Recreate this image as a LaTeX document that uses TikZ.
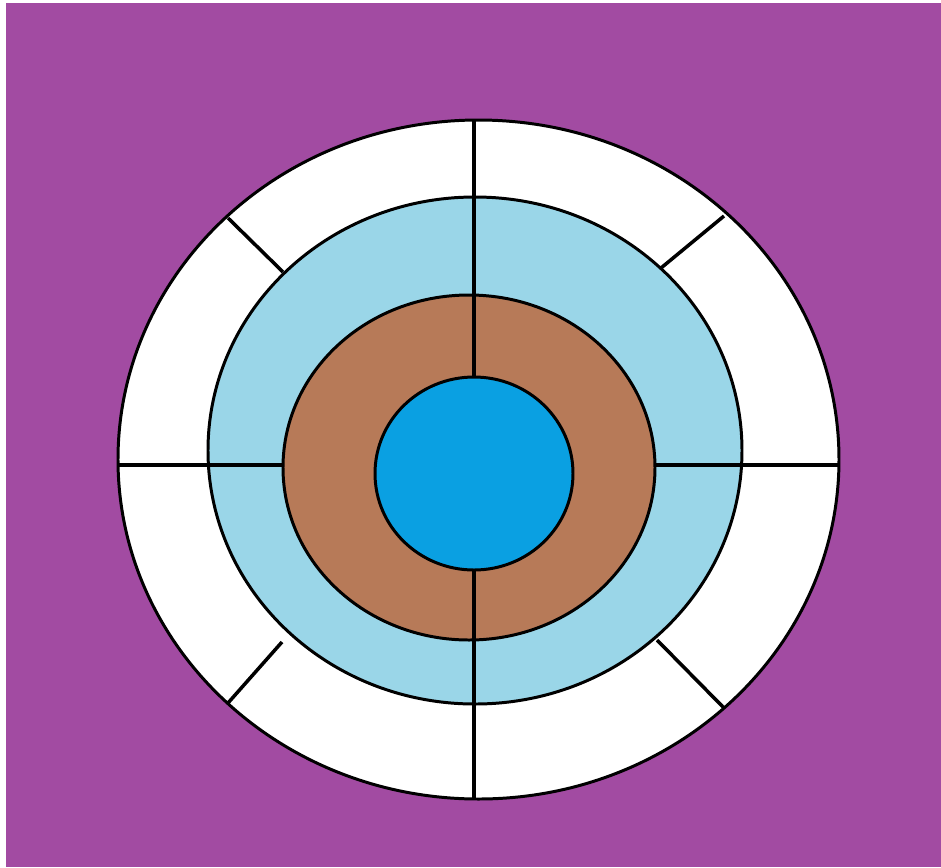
\documentclass[tikz,border=0pt]{standalone}
\usepackage{xcolor}
\usepackage{tikz}
\usetikzlibrary{calc}
\definecolor{bgpurple}{RGB}{162, 75, 162}
\definecolor{ringblue}{RGB}{154, 214, 232}
\definecolor{ringbrown}{RGB}{183, 122, 88}
\definecolor{coreblue}{RGB}{10, 160, 226}

\begin{document}
\begin{tikzpicture}[
    x=0.02cm, y=-0.02cm,
    ring/.style={draw=black, line width=1.7pt},
    spoke/.style={draw=black, line width=2pt, line cap=butt}
]
\useasboundingbox (0,0) rectangle (941,867);
\fill[white] (0,0) rectangle (941,867);
\fill[bgpurple] (6,3) rectangle (941,867);

\fill[white] (478.5,459.5) ellipse [x radius=360.5, y radius=339.5];
\fill[ringblue] (475,450.5) ellipse [x radius=267, y radius=253.5];
\fill[ringbrown] (469,467.5) ellipse [x radius=186, y radius=172.5];

\coordinate (outerTop) at (474,120);
\coordinate (outerBot) at (474,799);
\coordinate (outerL) at (118,465);
\coordinate (outerR) at (839,465);
\coordinate (coreTop) at (474,377);
\coordinate (coreBot) at (474,570);
\coordinate (brownL) at (283,465);
\coordinate (brownR) at (655,465);

\draw[spoke] (outerTop) -- (coreTop);
\draw[spoke] (coreBot) -- (outerBot);
\draw[spoke] (outerL) -- (brownL);
\draw[spoke] (brownR) -- (outerR);

\draw[spoke] (228,218) -- (283,272);
\draw[spoke] (724,216) -- (661,268);
\draw[spoke] (282,642) -- (228,703);
\draw[spoke] (657,640) -- (724,708);

\draw[ring] (478.5,459.5) ellipse [x radius=360.5, y radius=339.5];
\draw[ring] (475,450.5) ellipse [x radius=267, y radius=253.5];
\draw[ring] (469,467.5) ellipse [x radius=186, y radius=172.5];
\filldraw[ring, fill=coreblue] (474,473.5) ellipse [x radius=99, y radius=96.5];
\end{tikzpicture}
\end{document}
